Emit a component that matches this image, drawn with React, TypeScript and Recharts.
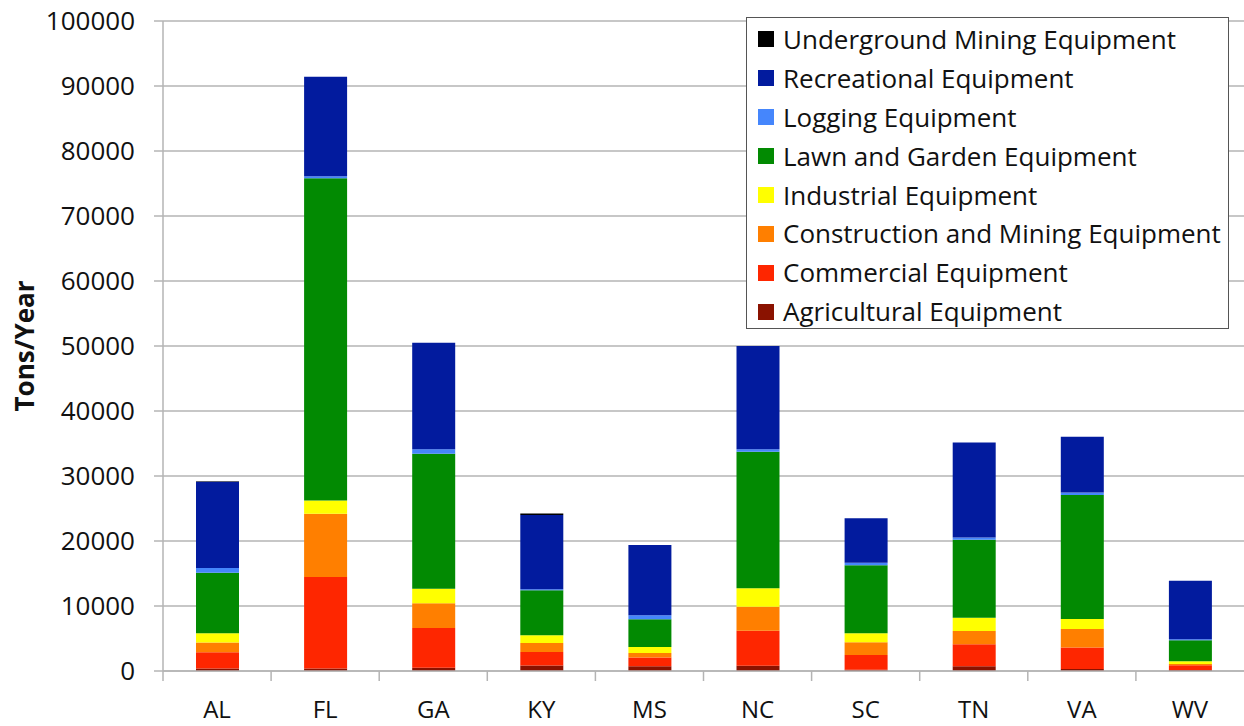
import React from 'react';
import { BarChart, Bar, XAxis, YAxis, CartesianGrid } from 'recharts';

// Categories (states)
const states = ['AL', 'FL', 'GA', 'KY', 'MS', 'NC', 'SC', 'TN', 'VA', 'WV'];

// Series values (tons/year), stacked bottom to top
const agricultural = [400, 400, 500, 850, 720, 800, 200, 720, 300, 150];
const commercial = [2500, 14060, 6110, 2070, 1340, 5400, 2260, 3390, 3300, 730];
const construction = [1500, 9750, 3800, 1390, 710, 3690, 1950, 2040, 2860, 200];
const industrial = [1390, 2040, 2260, 1180, 920, 2830, 1390, 2060, 1540, 410];
const lawnGarden = [9330, 49570, 20770, 6920, 4260, 21010, 10460, 12000, 19070, 3230];
const logging = [710, 300, 660, 150, 620, 370, 410, 310, 410, 160];
const recreational = [13290, 15290, 16400, 11430, 10810, 15900, 6820, 14650, 8570, 9020];
const underground = [80, 0, 0, 260, 0, 0, 0, 0, 0, 0];

const yTicks = [0, 10000, 20000, 30000, 40000, 50000, 60000, 70000, 80000, 90000, 100000];

const series = [
  { key: 'agricultural', name: 'Agricultural Equipment', values: agricultural, color: '#8a1200' },
  { key: 'commercial', name: 'Commercial Equipment', values: commercial, color: '#fe2600' },
  { key: 'construction', name: 'Construction and Mining Equipment', values: construction, color: '#ff7f00' },
  { key: 'industrial', name: 'Industrial Equipment', values: industrial, color: '#ffff00' },
  { key: 'lawn', name: 'Lawn and Garden Equipment', values: lawnGarden, color: '#028a02' },
  { key: 'logging', name: 'Logging Equipment', values: logging, color: '#4586fc' },
  { key: 'recreational', name: 'Recreational Equipment', values: recreational, color: '#021b9e' },
  { key: 'underground', name: 'Underground Mining Equipment', values: underground, color: '#000000' },
];

const chartData = states.map((state, i) => {
  const row: any = { state };
  series.forEach((s) => {
    row[s.key] = s.values[i];
  });
  return row;
});

const FONT = '"Open Sans", "Liberation Sans", sans-serif';
const GRID = '#b4b4b4';

// x tick: label in the middle, small tick mark on the left band boundary
const StateTick = (props: any) => {
  const { x, y, payload } = props;
  const half = payload && payload.offset ? payload.offset : 54;
  return (
    <g>
      <line x1={x - half} x2={x - half} y1={y - 10} y2={y} stroke={GRID} strokeWidth={1.5} />
      <text x={x} y={y + 37} textAnchor="middle" fontSize={24} fill="#111" fontFamily={FONT}>
        {payload.value}
      </text>
    </g>
  );
};

const YTitle = (props: any) => {
  const vb = props.viewBox || { y: 20, height: 650 };
  const cy = vb.y + vb.height / 2;
  return (
    <text
      x={24}
      y={cy}
      transform={`rotate(-90 24 ${cy})`}
      textAnchor="middle"
      dominantBaseline="central"
      fontSize={26}
      fontWeight="bold"
      fill="#111"
      fontFamily={FONT}
    >
      Tons/Year
    </text>
  );
};

const LegendBox = () => (
  <div
    style={{
      position: 'absolute',
      left: 746,
      top: 17,
      width: 481,
      height: 308,
      border: '1.5px solid #555',
      background: '#fff',
      paddingTop: 2,
      boxSizing: 'content-box',
      fontFamily: FONT,
      fontSize: 26,
      color: '#111',
    }}
  >
    {[...series].reverse().map((s) => (
      <div key={s.key} style={{ display: 'flex', alignItems: 'center', height: 38.9 }}>
        <div style={{ width: 16, height: 16, background: s.color, marginLeft: 11, marginRight: 9 }} />
        <span style={{ whiteSpace: 'nowrap', lineHeight: '38.9px' }}>{s.name}</span>
      </div>
    ))}
  </div>
);

export default function App() {
  return (
    <div style={{ position: 'absolute', left: 0, top: 0, width: 1244, height: 726, background: '#fff' }}>
      <BarChart
        width={1244}
        height={726}
        data={chartData}
        margin={{ top: 21, right: 0, left: 0, bottom: 0 }}
        barSize={43}
      >
        <CartesianGrid vertical={false} stroke={GRID} strokeWidth={1.5} />
        <XAxis
          dataKey="state"
          height={55}
          axisLine={{ stroke: GRID, strokeWidth: 1.5 }}
          tickLine={false}
          tickSize={10}
          tickMargin={0}
          tick={<StateTick />}
          interval={0}
        />
        <YAxis
          width={163}
          domain={[0, 100000]}
          ticks={yTicks}
          interval={0}
          axisLine={{ stroke: GRID, strokeWidth: 1.5 }}
          tickLine={{ stroke: GRID, strokeWidth: 1.5 }}
          tickSize={9}
          tickMargin={19}
          tick={{ fontSize: 26, fill: '#111', fontFamily: FONT }}
          label={<YTitle />}
        />
        {series.map((s) => (
          <Bar key={s.key} dataKey={s.key} name={s.name} stackId="a" fill={s.color} isAnimationActive={false} />
        ))}
      </BarChart>
      <LegendBox />
    </div>
  );
}
